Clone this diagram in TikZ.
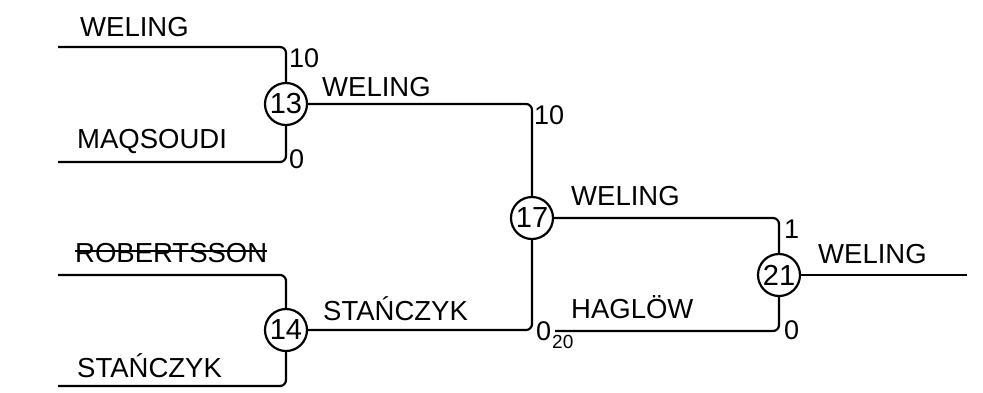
\documentclass[tikz,border=0pt]{standalone}
\usepackage{fontspec}
\setmainfont{Liberation Sans}
\begin{document}
\begin{tikzpicture}[x=1pt,y=-1pt,
    match/.style={circle,draw,line width=2.2pt,minimum size=42pt,inner sep=0pt,font=\fontsize{29}{29}\selectfont},
    player/.style={anchor=base west,inner sep=0pt,font=\fontsize{27.5}{27.5}\selectfont},
    score/.style={anchor=base west,inner sep=0pt,font=\fontsize{27}{27}\selectfont},
    wire/.style={line width=2.2pt,rounded corners=6pt}]
  \useasboundingbox (0,0) rectangle (983,392);

  \node[match] (m13) at (286,104) {13}; % first round
  \node[match] (m14) at (286,330) {14};
  \node[match] (m17) at (532,218) {17}; % second round
  \node[match] (m21) at (779,275) {21}; % final

  \coordinate (in1) at (58,47);
  \coordinate (in2) at (58,162);
  \coordinate (in3) at (58,275);
  \coordinate (in4) at (58,386);
  \coordinate (in5) at (555,331);
  \coordinate (out) at (967,275);

  \draw[wire] (in1) -| (m13);
  \draw[wire] (in2) -| (m13);
  \draw[wire] (in3) -| (m14);
  \draw[wire] (in4) -| (m14);
  \draw[wire] (m13) -| (m17);
  \draw[wire] (m14) -| (m17);
  \draw[wire] (m17) -| (m21);
  \draw[wire] (in5) -| (m21);
  \draw[wire] (m21) -- (out);

  % names
  \node[player] (p1) at (80,36) {WELING};
  \node[player] (p2) at (77,148) {MAQSOUDI};
  \node[player] (p3) at (75,262) {ROBERTSSON};
  \draw[line width=1.8pt] ([yshift=11pt]p3.base west) -- ([yshift=11pt]p3.base east); % scratched
  \node[player] (p4) at (77,377) {STAŃCZYK};
  \node[player] (w13) at (322,96) {WELING};
  \node[player] (w14) at (323,320) {STAŃCZYK};
  \node[player] (w17) at (571,205) {WELING};
  \node[player] (p5) at (571,318) {HAGLÖW};
  \node[player] (w21) at (818,263) {WELING};

  % scores
  \node[score] (s1) at (289,67) {10};
  \node[score] (s2) at (289,168) {0};
  \node[score] (s3) at (534,124) {10};
  \node[score] (s4) at (536,340) {0};
  \node[anchor=base west,inner sep=0pt,font=\fontsize{19}{19}\selectfont] (s4b) at (552,348) {20};
  \node[score] (s5) at (784,238) {1};
  \node[score] (s6) at (784,339) {0};
\end{tikzpicture}
\end{document}
